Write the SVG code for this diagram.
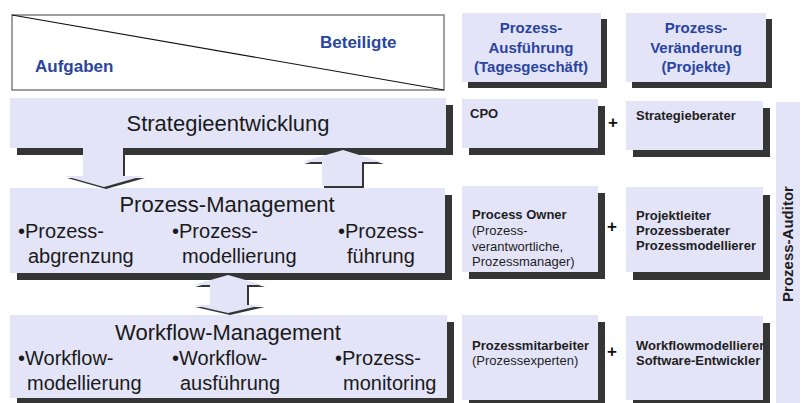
<svg xmlns="http://www.w3.org/2000/svg" width="800" height="403" viewBox="0 0 800 403">
<style>
text{font-family:"Liberation Sans",Arial,sans-serif}
.box{fill:#e4e4f8}
.sh{fill:#353535}
.hdr{fill:#2a45a0;font-weight:bold}
.main{fill:#1a1a1a;font-size:22px}
.bul{fill:#1a1a1a;font-size:20px}
.sm{fill:#1e1e1e;font-size:13px}
.b{font-weight:bold}
.plus{fill:#111;font-size:17px;font-weight:bold}
</style>
<rect width="800" height="403" fill="#ffffff"/>

<g id="header">
<rect x="12" y="15" width="432" height="75" fill="#ffffff" stroke="#808080" stroke-width="1.5"/>
<line x1="12" y1="15" x2="444" y2="90" stroke="#111" stroke-width="1.2"/>
<text class="hdr" x="320" y="48" font-size="17">Beteiligte</text>
<text class="hdr" x="35" y="72" font-size="17">Aufgaben</text>
</g>

<g id="col-ausfuehrung">
<rect class="sh" x="468" y="19" width="139" height="69"/>
<rect class="box" x="462" y="13" width="139" height="69"/>
<text class="hdr" font-size="15" text-anchor="middle"><tspan x="531" y="33">Prozess-</tspan><tspan x="531" y="53">Ausführung</tspan><tspan x="531" y="72">(Tagesgeschäft)</tspan></text>
</g>

<g id="col-veraenderung">
<rect class="sh" x="632" y="19" width="140" height="69"/>
<rect class="box" x="626" y="13" width="140" height="69"/>
<text class="hdr" font-size="15" text-anchor="middle"><tspan x="696" y="33">Prozess-</tspan><tspan x="696" y="53">Veränderung</tspan><tspan x="696" y="72">(Projekte)</tspan></text>
</g>

<g id="strategieentwicklung">
<rect class="sh" x="17" y="105" width="436" height="50"/>
<rect class="box" x="10" y="98" width="436" height="50"/>
<text class="main" x="228" y="131" text-anchor="middle">Strategieentwicklung</text>
</g>

<g id="prozess-management">
<rect class="sh" x="17" y="195" width="435" height="85"/>
<rect class="box" x="10" y="188" width="435" height="85"/>
<text class="main" x="227" y="212" text-anchor="middle">Prozess-Management</text>
<text class="bul"><tspan x="18" y="238">•Prozess-</tspan><tspan x="28" y="263">abgrenzung</tspan></text>
<text class="bul"><tspan x="172" y="238">•Prozess-</tspan><tspan x="182" y="263">modellierung</tspan></text>
<text class="bul"><tspan x="338" y="238">•Prozess-</tspan><tspan x="347" y="263">führung</tspan></text>
</g>

<g id="workflow-management">
<rect class="sh" x="17" y="322" width="437" height="83"/>
<rect class="box" x="10" y="315" width="437" height="83"/>
<text class="main" x="228" y="340" text-anchor="middle">Workflow-Management</text>
<text class="bul"><tspan x="18" y="365">•Workflow-</tspan><tspan x="27" y="390">modellierung</tspan></text>
<text class="bul"><tspan x="172" y="365">•Workflow-</tspan><tspan x="180" y="390">ausführung</tspan></text>
<text class="bul"><tspan x="335" y="365">•Prozess-</tspan><tspan x="343" y="390">monitoring</tspan></text>
</g>

<g id="connectors">
<g transform="translate(2,2)" class="sh">
<polygon points="83,148 123,148 123,176 143,176 104,187 65,176 83,176"/>
<polygon points="343,150 382,162 362,162 362,186 322,186 322,162 302,162"/>
<polygon points="228,275 263,285 247,285 247,305 263,305 228,313 193,305 210,305 210,285 193,285"/>
</g>
<polygon class="box" points="83,148 123,148 123,176 143,176 104,187 65,176 83,176"/>
<polygon class="box" points="343,150 382,162 362,162 362,186 322,186 322,162 302,162"/>
<polygon class="box" points="228,275 263,285 247,285 247,305 263,305 228,313 193,305 210,305 210,285 193,285"/>
</g>

<g id="cpo">
<rect class="sh" x="469" y="106" width="136" height="49"/>
<rect class="box" x="462" y="99" width="136" height="49"/>
<text class="sm b" x="470" y="118">CPO</text>
</g>
<text class="plus" x="613" y="128" text-anchor="middle">+</text>
<g id="strategieberater">
<rect class="sh" x="633" y="108" width="137" height="49"/>
<rect class="box" x="626" y="101" width="137" height="49"/>
<text class="sm b" x="636" y="120">Strategieberater</text>
</g>

<g id="process-owner">
<rect class="sh" x="469" y="193" width="136" height="86"/>
<rect class="box" x="462" y="186" width="136" height="86"/>
<text class="sm"><tspan class="b" x="472" y="219">Process Owner</tspan><tspan x="472" y="235">(Prozess-</tspan><tspan x="472" y="251">verantwortliche,</tspan><tspan x="472" y="266">Prozessmanager)</tspan></text>
</g>
<text class="plus" x="612" y="232" text-anchor="middle">+</text>
<g id="projektleiter">
<rect class="sh" x="633" y="195" width="137" height="85"/>
<rect class="box" x="626" y="187" width="137" height="85"/>
<text class="sm b"><tspan x="636" y="220">Projektleiter</tspan><tspan x="636" y="235">Prozessberater</tspan><tspan x="636" y="250">Prozessmodellierer</tspan></text>
</g>

<g id="prozessmitarbeiter">
<rect class="sh" x="469" y="322" width="136" height="85"/>
<rect class="box" x="462" y="315" width="136" height="85"/>
<text class="sm"><tspan class="b" x="472" y="350">Prozessmitarbeiter</tspan><tspan x="472" y="365">(Prozessexperten)</tspan></text>
</g>
<text class="plus" x="612" y="357" text-anchor="middle">+</text>
<g id="workflowmodellierer">
<rect class="sh" x="633" y="323" width="137" height="84"/>
<rect class="box" x="626" y="316" width="137" height="84"/>
<text class="sm b"><tspan x="636" y="350">Workflowmodellierer</tspan><tspan x="636" y="365">Software-Entwickler</tspan></text>
</g>

<g id="prozess-auditor">
<rect class="box" x="776" y="102" width="24" height="301"/>
<text class="sm b" font-size="15" transform="translate(793,244) rotate(-90)" text-anchor="middle" style="font-size:15px">Prozess-Auditor</text>
</g>
</svg>
